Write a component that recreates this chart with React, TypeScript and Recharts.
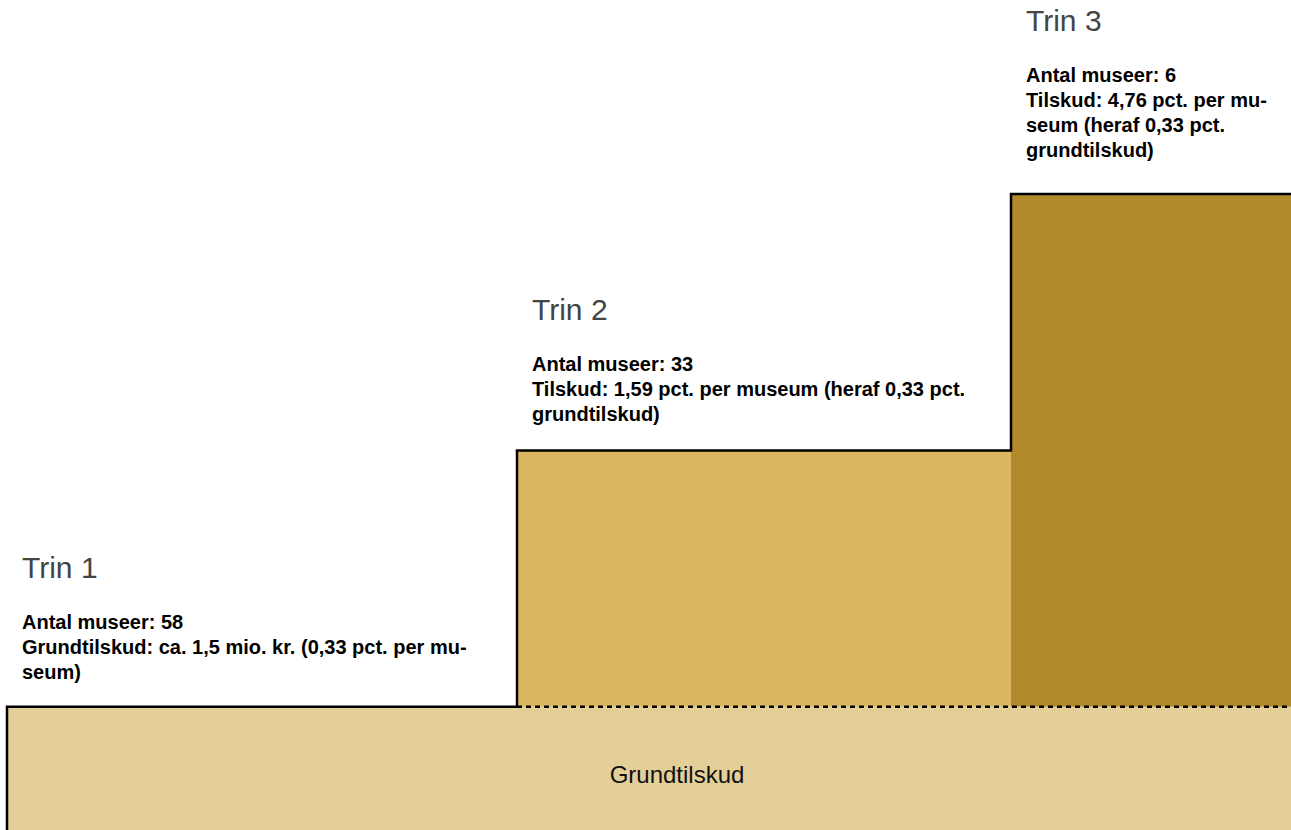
import React from "react";
import { ComposedChart, XAxis, YAxis, Line, ReferenceArea, ReferenceLine } from "recharts";

// ---- data ----
const tiers = ["Trin 1", "Trin 2", "Trin 3"];
const tierWidths = [51, 49.4, 33.6]; // relative width of each step
const tierLevels = [1, 3, 5]; // relative height of the top of each step
const baseLevel = 1; // height of the "Grundtilskud" foundation
const baseLabel = "Grundtilskud";
const tierTexts = [
  ["Antal museer: 58", "Grundtilskud: ca. 1,5 mio. kr. (0,33 pct. per mu-", "seum)"],
  ["Antal museer: 33", "Tilskud: 1,59 pct. per museum (heraf 0,33 pct.", "grundtilskud)"],
  ["Antal museer: 6", "Tilskud: 4,76 pct. per mu-", "seum (heraf 0,33 pct.", "grundtilskud)"],
];

// ---- style ----
const baseColor = "#E5CF99";
const tierColors = ["#E5CF99", "#DBB762", "#B38A2B"];
const labelGaps = [28, 29, 37];
const FONT = "'Liberation Sans', Arial, sans-serif";

const starts = tierWidths.map((_, i) => tierWidths.slice(0, i).reduce((a, b) => a + b, 0));
const total = tierWidths.reduce((a, b) => a + b, 0);
const outline = [
  { x: 0, y: 0 },
  ...tiers.map((_, i) => ({ x: starts[i], y: tierLevels[i] })),
  { x: total, y: tierLevels[tierLevels.length - 1] },
];

const makeTierLabel = (i: number) => (props: any) => {
  const vb = props.viewBox || {};
  const x = (vb.x ?? 0) + 15;
  const top = vb.y ?? 0;
  const lines = tierTexts[i];
  const lastY = top - labelGaps[i];
  const firstY = lastY - (lines.length - 1) * 25;
  const titleY = firstY - 51;
  return (
    <g>
      <text x={x} y={titleY} fontFamily={FONT} fontSize={30} fill="#444">
        {tiers[i]}
      </text>
      {lines.map((l, k) => (
        <text key={k} x={x} y={firstY + k * 25} fontFamily={FONT} fontSize={20} fontWeight="bold" fill="#000">
          {l}
        </text>
      ))}
    </g>
  );
};

const baseLabelRenderer = (props: any) => {
  const vb = props.viewBox || {};
  return (
    <text
      x={(vb.x ?? 0) + (vb.width ?? 0) / 2}
      y={(vb.y ?? 0) + 76}
      textAnchor="middle"
      fontFamily={FONT}
      fontSize={24}
      fill="#111"
    >
      {baseLabel}
    </text>
  );
};

export default function App() {
  return (
    <div
      style={{
        position: "absolute",
        left: 0,
        top: 0,
        width: 1291,
        height: 830,
        overflow: "hidden",
        background: "#fff",
      }}
    >
      <ComposedChart
        width={1347}
        height={835}
        data={outline}
        margin={{ top: 194, right: 0, bottom: 0, left: 7 }}
      >
        <XAxis dataKey="x" type="number" domain={[0, total]} hide />
        <YAxis type="number" domain={[0, tierLevels[tierLevels.length - 1]]} hide />
        <ReferenceArea
          x1={0}
          x2={total}
          y1={0}
          y2={baseLevel}
          fill={baseColor}
          fillOpacity={1}
          stroke="none"
          label={baseLabelRenderer}
        />
        {tiers.map((t, i) => (
          <ReferenceArea
            key={t}
            x1={starts[i]}
            x2={starts[i] + tierWidths[i]}
            y1={baseLevel}
            y2={tierLevels[i]}
            fill={tierColors[i]}
            fillOpacity={1}
            stroke="none"
            label={makeTierLabel(i)}
          />
        ))}
        <ReferenceLine
          segment={[
            { x: starts[1], y: baseLevel },
            { x: total, y: baseLevel },
          ]}
          stroke="#000"
          strokeWidth={2.5}
          strokeDasharray="5 4"
        />
        <Line
          dataKey="y"
          type="stepAfter"
          stroke="#000"
          strokeWidth={2.5}
          dot={false}
          activeDot={false}
          isAnimationActive={false}
        />
      </ComposedChart>
    </div>
  );
}
